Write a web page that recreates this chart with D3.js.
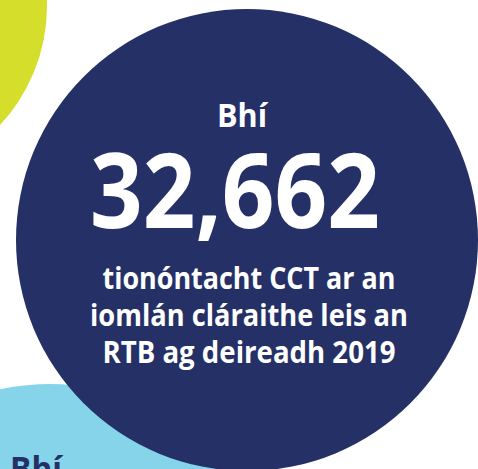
<!DOCTYPE html>
<html>
<head>
<meta charset="utf-8">
<script src="https://cdn.jsdelivr.net/npm/d3@7"></script>
<style>
html, body { margin: 0; padding: 0; background: #fff; overflow: hidden; }
svg { display: block; }
text { font-family: "Open Sans", "Noto Sans", sans-serif; font-weight: 700; }
</style>
</head>
<body>
<svg width="478" height="469"></svg>
<script>
// figures shown in the graphic
var bubbleNames = ['lime', 'sky', 'main'];
var bubbleColors = ['#d4de2b', '#86d4ea', '#253166'];
var headline = ['Bhí'];
var values = [32662];
var captionLines = ['tionóntacht CCT ar an', 'iomlán cláraithe leis an', 'RTB ag deireadh 2019'];
var nextHeadline = ['Bhí'];

var svg = d3.select('svg');
var fmt = d3.format(',');

// circle layout (pixel geometry of the page)
var layout = {
	lime: { cx: -127, cy: 6, r: 174 },
	sky: { cx: 50, cy: 620, r: 236 },
	main: { cx: 247, cy: 240, r: 231 }
};

var color = d3.scaleOrdinal().domain(bubbleNames).range(bubbleColors);

svg.selectAll('circle.bubble')
	.data(bubbleNames)
	.enter().append('circle')
	.attr('class', 'bubble')
	.attr('cx', d => layout[d].cx)
	.attr('cy', d => layout[d].cy)
	.attr('r', d => layout[d].r)
	.style('fill', d => color(d));

// fit a text element to a target width by adjusting font size
function fitText(sel, width){
	var w = sel.node().getComputedTextLength();
	var fs = parseFloat(sel.style('font-size'));
	sel.style('font-size', (fs * width / w) + 'px');
}

// text is drawn at origin then moved; ky stretches it a bit taller (source font is narrower)
function placed(x, y, ky){
	return 'translate(' + x + ',' + y + ') scale(1,' + ky + ')';
}

var head = svg.append('text')
	.attr('transform', placed(242, 127, 1.05))
	.attr('text-anchor', 'middle')
	.style('font-size', '31px')
	.style('fill', '#fff')
	.text(headline[0]);
fitText(head, 50);

var num = svg.selectAll('text.value')
	.data(values)
	.enter().append('text')
	.attr('class', 'value')
	.attr('transform', placed(235, 228, 1.12))
	.attr('text-anchor', 'middle')
	.style('font-size', '97px')
	.style('fill', '#fff')
	.text(d => fmt(d));
fitText(num, 290);

var lineWidths = [293, 318, 293];
svg.selectAll('text.caption')
	.data(captionLines)
	.enter().append('text')
	.attr('class', 'caption')
	.attr('transform', (d, i) => placed(249, 289 + i * 37, 1.1))
	.attr('text-anchor', 'middle')
	.style('font-size', '27px')
	.style('fill', '#fff')
	.text(d => d)
	.each(function(d, i){ fitText(d3.select(this), lineWidths[i]); });

var nextHead = svg.append('text')
	.attr('transform', placed(10, 481, 1.05))
	.style('font-size', '31px')
	.style('fill', '#253166')
	.text(nextHeadline[0]);
fitText(nextHead, 52);
</script>
</body>
</html>
